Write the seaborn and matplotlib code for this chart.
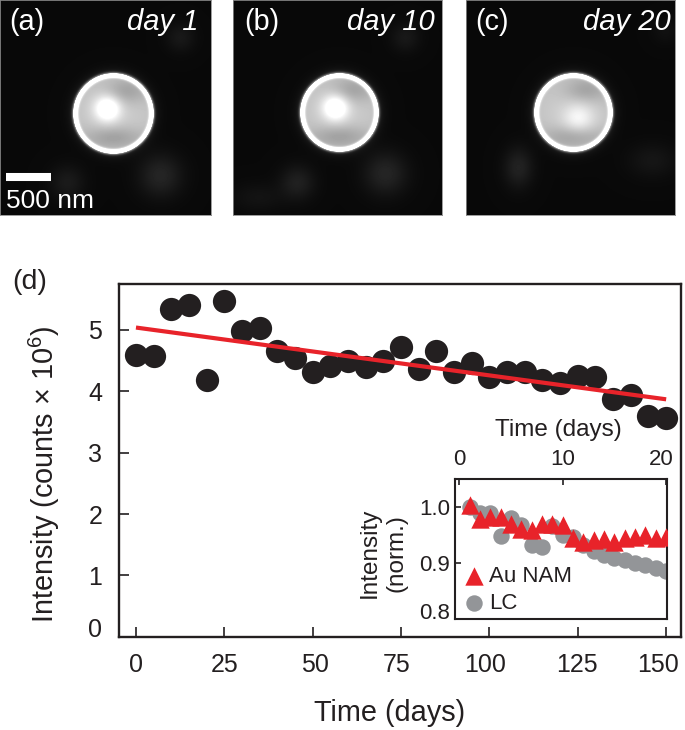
import numpy as np
import pandas as pd
import matplotlib
matplotlib.use("Agg")
import matplotlib.pyplot as plt
from matplotlib.transforms import ScaledTranslation
import seaborn as sns

# ---- data ----
days_main = [0, 5, 10, 15, 20, 25, 30, 35, 40, 45, 50, 55, 60, 65, 70, 75, 80, 85, 90, 95,
             100, 105, 110, 115, 120, 125, 130, 135, 140, 145, 150]
intensity_main = [4.60, 4.58, 5.35, 5.40, 4.18, 5.48, 4.98, 5.04, 4.66, 4.54, 4.32, 4.41, 4.50,
                  4.40, 4.50, 4.72, 4.36, 4.66, 4.32, 4.47, 4.24, 4.31, 4.31, 4.18, 4.14, 4.25,
                  4.24, 3.87, 3.94, 3.60, 3.57]
fit_days = [0, 150]
fit_values = [5.04, 3.87]
days_inset = list(range(1, 21))
au_nam = [1.002, 0.978, 0.982, 0.982, 0.970, 0.960, 0.959, 0.969, 0.969, 0.967,
          0.945, 0.938, 0.941, 0.942, 0.938, 0.945, 0.946, 0.950, 0.945, 0.946]
lc = [1.000, 0.988, 0.988, 0.948, 0.980, 0.968, 0.931, 0.928, 0.965, 0.950,
      0.946, 0.931, 0.921, 0.914, 0.909, 0.906, 0.900, 0.897, 0.891, 0.885]
main_xticks = [0, 25, 50, 75, 100, 125, 150]
main_yticks = [0, 1, 2, 3, 4, 5]
inset_xticks = [0, 10, 20]
inset_yticks = [0.8, 0.9, 1.0]
inset_yticklabels = ["0.8", "0.9", "1.0"]

# micrograph panels: label, day text, box (left, right px), disc centre/radius,
# hot spot, faint background blobs (x, y, sx, sy, amplitude)
panel_names = ["(a)", "(b)", "(c)"]
panel_days = ["day 1", "day 10", "day 20"]
panel_boxes = [(0, 211), (233, 442), (466, 675)]
panel_day_right = [198, 201, 204]
panel_name_left = [9, 11, 9]
disc_centres = [(113, 113), (106, 112), (107, 112)]
disc_radii = [40, 39, 39]
hot_spots = [(107, 108, 9, 0.38), (102, 107, 9, 0.38), (112, 118, 11, 0.18)]
blob_lists = [
    [(160, 175, 15, 15, 0.11), (67, 182, 12, 12, 0.07), (180, 37, 10, 10, 0.06)],
    [(152, 173, 15, 15, 0.11), (64, 182, 12, 12, 0.09), (172, 37, 10, 10, 0.06), (25, 197, 18, 10, 0.04)],
    [(52, 167, 10, 14, 0.10), (186, 160, 17, 12, 0.05), (199, 30, 9, 9, 0.03)],
]

INK = "#231f20"
RED = "#e8232a"
GRAY = "#939598"
W, H = 685, 730

sns.set_theme(style="ticks")
plt.rcParams["font.family"] = ["Liberation Sans", "DejaVu Sans"]
plt.rcParams["mathtext.fontset"] = "custom"
plt.rcParams["mathtext.rm"] = "Liberation Sans"
plt.rcParams["text.color"] = INK

fig = plt.figure(figsize=(W / 100, H / 100), dpi=100, facecolor="white")


def box(left, right, top, bottom):
    return [left / W, 1 - bottom / H, (right - left) / W, (bottom - top) / H]


def gauss(xx, yy, cx, cy, sx, sy):
    return np.exp(-((xx - cx) ** 2) / (2 * sx ** 2) - ((yy - cy) ** 2) / (2 * sy ** 2))


def micrograph(width, height, centre, radius, hot, blobs):
    yy, xx = np.mgrid[0:height, 0:width].astype(float)
    img = np.full(xx.shape, 0.035)
    for bx, by, sx, sy, amp in blobs:
        img += amp * gauss(xx, yy, bx, by, sx, sy)
    r = np.hypot(xx - centre[0], yy - centre[1])
    inside = np.clip(radius + 0.5 - r, 0, 1)
    body = 0.80 - 0.04 * (r / radius) ** 2
    body -= 0.14 * gauss(xx, yy, centre[0] + 12, centre[1] - 22, 15, 9)
    body -= 0.15 * gauss(xx, yy, centre[0], centre[1] + 24, 20, 8)
    body += hot[3] * gauss(xx, yy, hot[0], hot[1], hot[2], hot[2])
    img = img * (1 - inside) + body * inside
    img += 0.9 * np.exp(-((r - radius + 1.5) ** 2) / (2 * 1.7 ** 2))
    img += 0.12 * np.exp(-np.clip(r - radius, 0, None) / 4) * (r > radius)
    return np.clip(img, 0, 1)


for i, (name, day, (l, r_)) in enumerate(zip(panel_names, panel_days, panel_boxes)):
    ax_im = fig.add_axes(box(l, r_, 0, 215))
    ax_im.imshow(micrograph(r_ - l, 215, disc_centres[i], disc_radii[i], hot_spots[i], blob_lists[i]),
                 cmap="gray", vmin=0, vmax=1, aspect="auto", interpolation="bilinear")
    ax_im.set_xticks([])
    ax_im.set_yticks([])
    for s in ax_im.spines.values():
        s.set_color("#8a8a8a")
        s.set_linewidth(0.6)
    ax_im.text(panel_name_left[i], 21, name, color="white", fontsize=20.8, va="center", ha="left")
    ax_im.text(panel_day_right[i], 21, day, color="white", fontsize=21, style="italic", va="center", ha="right")
    if i == 0:
        ax_im.plot([5, 50], [176, 176], color="white", lw=5.8, solid_capstyle="butt")
        ax_im.text(6, 201, "500 nm", color="white", fontsize=19, va="center", ha="left")

# ---- main panel ----
main_df = pd.DataFrame({"day": days_main, "intensity": intensity_main})
fit_df = pd.DataFrame({"day": fit_days, "intensity": fit_values})
ax = fig.add_axes(box(119, 681, 284.3, 636.7))
sns.scatterplot(data=main_df, x="day", y="intensity", ax=ax, color=INK, s=280, linewidth=0, zorder=2, clip_on=False)
sns.lineplot(data=fit_df, x="day", y="intensity", ax=ax, color=RED, lw=3.0, zorder=3,
             errorbar=None, solid_capstyle="butt")
ax.set_xlim(-4.8, 154.2)
ax.set_ylim(0, 5.745)
ax.set_xticks(main_xticks)
ax.set_yticks(main_yticks)
ax.tick_params(axis="x", direction="in", length=7, width=1.2, labelsize=18, pad=11.5, colors=INK)
ax.tick_params(axis="y", direction="in", length=7, width=1.2, labelsize=18, pad=12, colors=INK)
ax.yaxis.get_ticklabels()[0].set_verticalalignment("baseline")
for lab, dx_px in zip(ax.xaxis.get_ticklabels(), [0, 0, 2, -4, -4, -1, -8]):
    lab.set_transform(lab.get_transform() + ScaledTranslation(dx_px / 100, 0, fig.dpi_scale_trans))
for s in ax.spines.values():
    s.set_linewidth(1.7)
    s.set_color(INK)
ax.set_xlabel("")
ax.set_ylabel("")
fig.text(390 / W, 1 - 713 / H, "Time (days)", fontsize=20.8, ha="center", va="center")
fig.text(44 / W, 1 - 474 / H, r"Intensity (counts $\times$ 10$^{6}$)", fontsize=20.8,
         rotation=90, ha="center", va="center")
fig.text(12 / W, 1 - 282 / H, "(d)", fontsize=20.5, ha="left", va="center")

# ---- inset ----
inset_df = pd.DataFrame({
    "day": days_inset * 2,
    "value": lc + au_nam,
    "sample": ["LC"] * len(lc) + ["Au NAM"] * len(au_nam),
})
axi = fig.add_axes(box(455, 666.7, 479, 619.3), zorder=5)
sns.scatterplot(data=inset_df[inset_df["sample"] == "LC"], x="day", y="value", ax=axi, color=GRAY,
                marker="o", s=140, linewidth=0, label="LC", zorder=2)
sns.scatterplot(data=inset_df[inset_df["sample"] == "Au NAM"], x="day", y="value", ax=axi, color=RED,
                marker="^", s=175, linewidth=0, label="Au NAM", zorder=3)
axi.set_xlim(-0.42, 20.07)
axi.set_ylim(0.8, 1.049)
axi.set_xticks(inset_xticks)
axi.set_yticks(inset_yticks)
axi.set_yticklabels(inset_yticklabels)
axi.xaxis.tick_top()
axi.tick_params(axis="x", direction="in", length=4, width=1.2, labelsize=16, pad=6.5, colors=INK)
axi.tick_params(axis="y", direction="in", length=4, width=1.2, labelsize=16, pad=3.5, colors=INK)
axi.yaxis.get_ticklabels()[0].set_verticalalignment("baseline")
lab20 = axi.xaxis.get_ticklabels()[2]
lab20.set_transform(lab20.get_transform() + ScaledTranslation(-5 / 100, 0, fig.dpi_scale_trans))
for s in axi.spines.values():
    s.set_linewidth(1.5)
    s.set_color(INK)
axi.set_xlabel("")
axi.set_ylabel("")
handles, labels = axi.get_legend_handles_labels()
leg = axi.legend(handles[::-1], labels[::-1], loc="lower left", bbox_to_anchor=(-0.047, -0.05),
                 frameon=False, fontsize=16, handletextpad=-0.05, labelspacing=0.28,
                 borderaxespad=0.35, borderpad=0.2, markerscale=1.0, handlelength=1.5)
for t in leg.get_texts():
    t.set_color(INK)
fig.text(558 / W, 1 - 430 / H, "Time (days)", fontsize=17.5, ha="center", va="center")
fig.text(383 / W, 1 - 553 / H, "Intensity\n(norm.)", fontsize=17.5, rotation=90, ha="center", va="center",
         multialignment="center", linespacing=1.25)

fig.savefig("out.png", dpi=100, facecolor="white")
